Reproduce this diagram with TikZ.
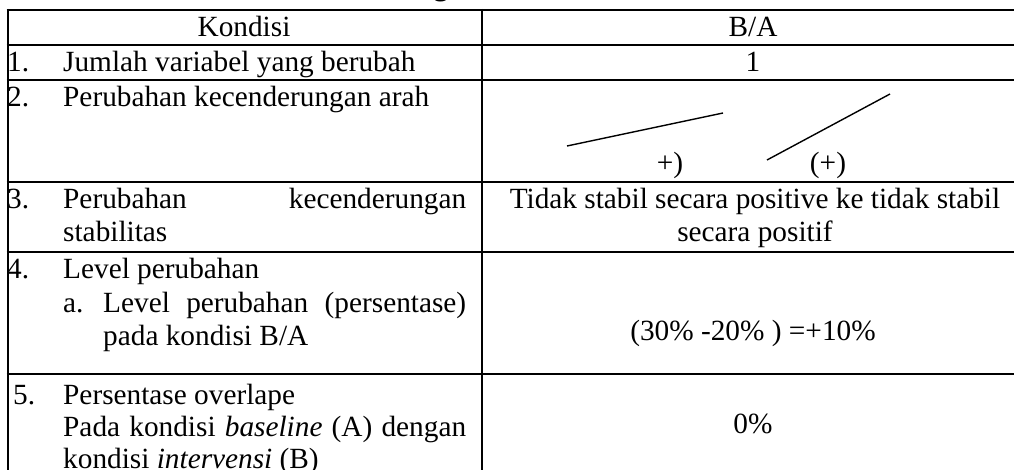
\documentclass[tikz,border=0pt]{standalone}
\usepackage{fontspec}
\setmainfont{Liberation Serif}
\begin{document}
\begin{tikzpicture}[x=1pt,y=-1pt,
  rule/.style={line width=2pt},
  trend/.style={line width=1.4pt},
  txt/.style={inner sep=0pt, font=\fontsize{29.3}{33.5}\selectfont},
  lt/.style={txt, anchor=base west},
  ct/.style={txt, anchor=base}]
\useasboundingbox (0,0) rectangle (1014,470);
\clip (0,0) rectangle (1014,470);
% title fragment (cut off at top)
\node[ct, font=\fontsize{29.3}{33.5}\selectfont\bfseries] (title) at (441,-4.3) {g};
% rules
\foreach \yy in {10,45,80,182,252,374} \draw[rule] (6.5,\yy) -- (1014,\yy);
\draw[rule] (7.5,9) -- (7.5,470);
\draw[rule] (481.5,9) -- (481.5,470);
% header
\node[ct] (hK) at (244,37) {Kondisi};
\node[ct] (hB) at (753,37) {B/A};
% row 1
\node[lt] (n1) at (7,72) {1.};
\node[lt] (t1) at (63,72) {Jumlah variabel yang berubah};
\node[ct] (v1) at (753,72) {1};
% row 2
\node[lt] (n2) at (7,107) {2.};
\node[lt] (t2) at (63,107) {Perubahan kecenderungan arah};
\coordinate (a1) at (567,146);
\coordinate (a2) at (723,113);
\coordinate (b1) at (767,160);
\coordinate (b2) at (890,94);
\draw[trend] (a1) -- (a2);
\draw[trend] (b1) -- (b2);
\node[ct] (p1) at (670,173) {+)};
\node[ct] (p2) at (828,173) {(+)};
% row 3
\node[lt] (n3) at (7,209) {3.};
\node[lt] (t3a) at (63,209) {\makebox[403pt][s]{Perubahan kecenderungan}};
\node[lt] (t3b) at (63,242) {stabilitas};
\node[ct] (v3a) at (755,209) {Tidak stabil secara positive ke tidak stabil};
\node[ct] (v3b) at (755,242) {secara positif};
% row 4
\node[lt] (n4) at (7,279) {4.};
\node[lt] (t4a) at (63,279) {Level perubahan};
\node[lt] (t4b) at (63,312) {a.};
\node[lt] (t4c) at (103,312) {\makebox[363pt][s]{Level perubahan (persentase)}};
\node[lt] (t4d) at (103,345) {pada kondisi B/A};
\node[ct] (v4) at (753,340) {(30\% -20\% ) =+10\%};
% row 5
\node[lt] (n5) at (13,404) {5.};
\node[lt] (t5a) at (63,404) {Persentase overlape};
\node[lt] (t5b) at (63,436) {\makebox[403pt][s]{Pada kondisi \textit{baseline} (A) dengan}};
\node[lt] (t5c) at (63,468) {kondisi \textit{intervensi} (B)};
\node[ct] (v5) at (753,433) {0\%};
\end{tikzpicture}
\end{document}
